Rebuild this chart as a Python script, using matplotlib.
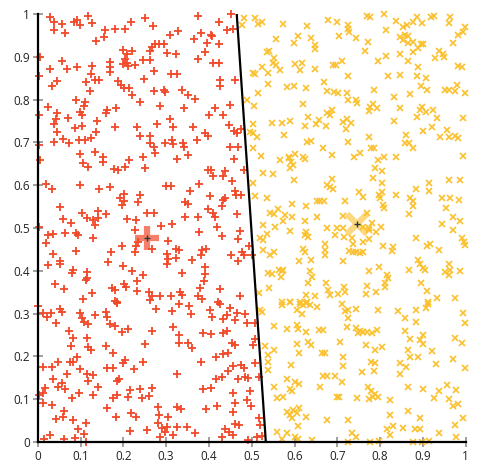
import numpy as np
import matplotlib.pyplot as plt

# class A (red plus markers)
red_x = [
    0.029, 0.118, 0.037, 0.056, 0.038, 0.064, 0.085, 0.091, 0.099, 0.126, 0.136, 0.155, 0.157, 0.181, 0.204, 0.217,
    0.251, 0.269, 0.309, 0.327, 0.375, 0.452, 0.424, 0.381, 0.364, 0.404, 0.408, 0.395, 0.424, 0.442, 0.457, 0.391,
    0.375, 0.409, 0.424, 0.005, 0.029, 0.056, 0.068, 0.091, 0.126, 0.124, 0.134, 0.144, 0.113, 0.122, 0.169, 0.169,
    0.169, 0.199, 0.208, 0.220, 0.204, 0.200, 0.208, 0.212, 0.227, 0.247, 0.262, 0.262, 0.266, 0.274, 0.284, 0.295,
    0.301, 0.323, 0.272, 0.311, 0.325, 0.249, 0.002, 0.033, 0.046, 0.188, 0.194, 0.202, 0.214, 0.220, 0.272, 0.294,
    0.297, 0.336, 0.352, 0.368, 0.239, 0.286, 0.341, 0.182, 0.090, 0.111, 0.107, 0.099, 0.023, 0.002, 0.046, 0.043,
    0.037, 0.046, 0.071, 0.103, 0.103, 0.087, 0.138, 0.136, 0.160, 0.163, 0.181, 0.231, 0.239, 0.262, 0.278, 0.308,
    0.315, 0.313, 0.297, 0.340, 0.342, 0.362, 0.371, 0.391, 0.401, 0.414, 0.432, 0.449, 0.446, 0.459, 0.465, 0.426,
    0.461, 0.426, 0.469, 0.399, 0.037, 0.060, 0.073, 0.097, 0.111, 0.124, 0.002, 0.099, 0.134, 0.153, 0.262, 0.271,
    0.274, 0.245, 0.317, 0.352, 0.449, 0.474,
    0.005, 0.152, 0.105, 0.118, 0.179, 0.188, 0.204, 0.214, 0.251, 0.325, 0.019, 0.033, 0.099, 0.144, 0.169, 0.202,
    0.192, 0.202, 0.198, 0.239, 0.235, 0.300, 0.311, 0.052, 0.103, 0.140, 0.160, 0.060, 0.078, 0.114, 0.128, 0.142,
    0.134, 0.208, 0.229, 0.256, 0.272, 0.288, 0.313, 0.002, 0.023, 0.036, 0.064, 0.090, 0.093, 0.128, 0.227, 0.019,
    0.090, 0.171, 0.196, 0.230, 0.234, 0.227, 0.266, 0.304, 0.322, 0.302, 0.305, 0.301, 0.322, 0.036, 0.051, 0.051,
    0.025, 0.164, 0.200, 0.083, 0.079, 0.114, 0.114, 0.113, 0.221, 0.247, 0.233, 0.202, 0.206, 0.041, 0.062, 0.126,
    0.105, 0.173, 0.181, 0.181, 0.186, 0.233, 0.260, 0.266, 0.262, 0.286, 0.311,
    0.459, 0.399, 0.406, 0.410, 0.438, 0.434, 0.483, 0.453, 0.377, 0.356, 0.403, 0.438, 0.434, 0.460, 0.463, 0.475,
    0.343, 0.351, 0.430, 0.399, 0.410, 0.414, 0.465, 0.375, 0.344, 0.420, 0.377, 0.430, 0.473, 0.469, 0.494, 0.329,
    0.383, 0.393, 0.381, 0.360, 0.452, 0.477, 0.481, 0.469, 0.500, 0.390, 0.390, 0.388, 0.337, 0.333, 0.337, 0.379,
    0.375, 0.385, 0.426, 0.473, 0.422,
    0.000, 0.012, 0.021, 0.030, 0.052, 0.056, 0.043, 0.099, 0.103, 0.107, 0.118, 0.134, 0.160, 0.163, 0.169, 0.181,
    0.185, 0.196, 0.212, 0.276, 0.313, 0.317, 0.268, 0.072, 0.114, 0.082, 0.077, 0.118, 0.125, 0.160, 0.177, 0.251,
    0.091, 0.075, 0.082, 0.048, 0.013, 0.034, 0.069, 0.099, 0.163, 0.177, 0.199, 0.204, 0.224, 0.245, 0.325, 0.116,
    0.130, 0.118, 0.035, 0.048, 0.056, 0.064, 0.017, 0.013, 0.002, 0.012, 0.033, 0.079, 0.097, 0.130, 0.142, 0.175,
    0.186, 0.191, 0.186, 0.216, 0.210, 0.238, 0.243, 0.261, 0.266, 0.163, 0.182, 0.218, 0.230, 0.062, 0.060, 0.043,
    0.082, 0.113, 0.095, 0.108, 0.113, 0.087, 0.062, 0.029, 0.015, 0.216, 0.255, 0.282, 0.284, 0.305, 0.325, 0.282,
    0.290, 0.298, 0.301, 0.325, 0.286, 0.315,
    0.329, 0.353, 0.357, 0.403, 0.407, 0.426, 0.449, 0.442, 0.434, 0.465, 0.484, 0.461, 0.488, 0.508, 0.329, 0.329,
    0.352, 0.360, 0.387, 0.405, 0.434, 0.442, 0.455, 0.460, 0.434, 0.444, 0.502, 0.508, 0.416, 0.382, 0.457, 0.475,
    0.481, 0.508, 0.444, 0.430, 0.416, 0.469, 0.485, 0.491, 0.516, 0.387, 0.405, 0.457, 0.496, 0.488, 0.461, 0.499,
    0.418, 0.393, 0.335, 0.457, 0.517, 0.520, 0.461, 0.470, 0.348, 0.367, 0.430, 0.438, 0.446, 0.457, 0.491, 0.512,
    0.525,
]
red_y = [
    0.994, 0.996, 0.982, 0.976, 0.963, 0.955, 0.982, 0.986, 0.974, 0.980, 0.937, 0.947, 0.963, 0.964, 0.966, 0.981,
    0.991, 0.972, 0.951, 0.961, 0.996, 0.999, 0.982, 0.955, 0.941, 0.952, 0.948, 0.933, 0.929, 0.963, 0.966, 0.912,
    0.894, 0.885, 0.885, 0.900, 0.872, 0.889, 0.871, 0.876, 0.879, 0.860, 0.846, 0.846, 0.842, 0.819, 0.887, 0.877,
    0.865, 0.917, 0.906, 0.914, 0.896, 0.883, 0.886, 0.879, 0.881, 0.893, 0.893, 0.914, 0.924, 0.930, 0.931, 0.931,
    0.910, 0.906, 0.867, 0.860, 0.860, 0.847, 0.854, 0.832, 0.843, 0.844, 0.834, 0.826, 0.828, 0.811, 0.819, 0.823,
    0.817, 0.823, 0.811, 0.801, 0.795, 0.784, 0.780, 0.780, 0.799, 0.795, 0.785, 0.772, 0.782, 0.763, 0.768, 0.755,
    0.743, 0.725, 0.756, 0.765, 0.738, 0.733, 0.749, 0.725, 0.768, 0.776, 0.735, 0.735, 0.715, 0.715, 0.743, 0.754,
    0.735, 0.706, 0.698, 0.698, 0.690, 0.737, 0.706, 0.723, 0.764, 0.780, 0.764, 0.787, 0.740, 0.727, 0.721, 0.846,
    0.846, 0.832, 0.690, 0.715, 0.702, 0.707, 0.699, 0.705, 0.705, 0.711, 0.694, 0.673, 0.678, 0.667, 0.698, 0.690,
    0.676, 0.667, 0.696, 0.671, 0.690, 0.731,
    0.659, 0.655, 0.651, 0.642, 0.638, 0.635, 0.643, 0.659, 0.641, 0.661, 0.603, 0.591, 0.600, 0.591, 0.595, 0.579,
    0.569, 0.564, 0.554, 0.577, 0.561, 0.598, 0.598, 0.548, 0.534, 0.540, 0.532, 0.521, 0.511, 0.523, 0.519, 0.524,
    0.507, 0.521, 0.519, 0.534, 0.534, 0.505, 0.509, 0.503, 0.484, 0.486, 0.488, 0.488, 0.484, 0.476, 0.495, 0.464,
    0.447, 0.445, 0.459, 0.459, 0.467, 0.445, 0.451, 0.470, 0.450, 0.439, 0.428, 0.417, 0.429, 0.439, 0.423, 0.417,
    0.414, 0.421, 0.411, 0.402, 0.394, 0.398, 0.384, 0.379, 0.400, 0.390, 0.376, 0.369, 0.363, 0.369, 0.357, 0.347,
    0.334, 0.359, 0.355, 0.330, 0.328, 0.353, 0.351, 0.340, 0.332, 0.340, 0.340,
    0.661, 0.635, 0.635, 0.622, 0.632, 0.622, 0.635, 0.610, 0.602, 0.586, 0.575, 0.571, 0.565, 0.586, 0.578, 0.578,
    0.561, 0.555, 0.552, 0.544, 0.536, 0.526, 0.532, 0.526, 0.525, 0.503, 0.491, 0.482, 0.493, 0.474, 0.459, 0.449,
    0.449, 0.451, 0.437, 0.425, 0.437, 0.443, 0.437, 0.423, 0.437, 0.410, 0.392, 0.376, 0.394, 0.351, 0.343, 0.359,
    0.340, 0.335, 0.357, 0.340, 0.328,
    0.318, 0.301, 0.291, 0.302, 0.310, 0.304, 0.277, 0.301, 0.289, 0.281, 0.276, 0.297, 0.304, 0.293, 0.276, 0.271,
    0.324, 0.258, 0.265, 0.310, 0.307, 0.269, 0.259, 0.260, 0.244, 0.244, 0.224, 0.222, 0.215, 0.224, 0.209, 0.229,
    0.199, 0.186, 0.188, 0.186, 0.176, 0.175, 0.159, 0.170, 0.174, 0.173, 0.184, 0.192, 0.170, 0.188, 0.160, 0.159,
    0.157, 0.143, 0.147, 0.129, 0.137, 0.123, 0.125, 0.115, 0.110, 0.090, 0.087, 0.102, 0.114, 0.110, 0.128, 0.102,
    0.110, 0.146, 0.143, 0.121, 0.106, 0.123, 0.102, 0.107, 0.127, 0.079, 0.058, 0.067, 0.059, 0.073, 0.059, 0.054,
    0.051, 0.044, 0.030, 0.019, 0.000, 0.009, 0.006, 0.016, 0.006, 0.026, 0.028, 0.081, 0.063, 0.059, 0.081, 0.044,
    0.032, 0.024, 0.034, 0.034, 0.011, 0.016,
    0.322, 0.318, 0.300, 0.308, 0.293, 0.323, 0.312, 0.297, 0.287, 0.302, 0.299, 0.284, 0.279, 0.277, 0.250, 0.232,
    0.232, 0.219, 0.254, 0.252, 0.255, 0.260, 0.232, 0.227, 0.206, 0.209, 0.227, 0.240, 0.198, 0.188, 0.177, 0.180,
    0.172, 0.185, 0.167, 0.153, 0.146, 0.146, 0.153, 0.150, 0.151, 0.123, 0.127, 0.115, 0.118, 0.098, 0.092, 0.084,
    0.084, 0.076, 0.076, 0.071, 0.055, 0.040, 0.042, 0.040, 0.034, 0.022, 0.012, 0.030, 0.024, 0.016, 0.005, 0.012,
    0.014,
]

# class B (yellow x markers)
yel_x = [
    0.481, 0.477, 0.508, 0.515, 0.523, 0.572, 0.629, 0.678, 0.700, 0.726, 0.724, 0.727, 0.769, 0.777, 0.809, 0.814,
    0.837, 0.853, 0.862, 0.878, 0.886, 0.897, 0.918, 0.925, 0.963, 0.960, 0.998, 0.993, 0.981, 0.971, 0.556, 0.608,
    0.599, 0.638, 0.648, 0.648, 0.705, 0.744, 0.771, 0.765, 0.847, 0.858, 0.866, 0.853, 0.866, 0.878, 0.896, 0.900,
    0.889, 0.876, 0.847, 0.814, 0.796, 0.865, 0.938, 0.946, 0.929, 0.950, 0.535, 0.541, 0.553, 0.550, 0.557, 0.566,
    0.523, 0.539, 0.502, 0.508, 0.601, 0.617, 0.614, 0.649, 0.691, 0.698, 0.712, 0.726, 0.818, 0.847, 0.889, 0.887,
    0.907, 0.981, 0.992, 0.537, 0.515, 0.582, 0.599, 0.626, 0.668, 0.675, 0.693, 0.702, 0.722, 0.724, 0.744, 0.745,
    0.786, 0.833, 0.870, 0.896, 0.909, 0.952, 0.962, 0.979, 0.975, 0.998, 0.488, 0.506, 0.619, 0.677, 0.687, 0.683,
    0.632, 0.657, 0.650, 0.674, 0.713, 0.722, 0.721, 0.732, 0.777, 0.783, 0.792, 0.773, 0.847, 0.833, 0.897, 0.893,
    0.907, 0.923, 0.887, 0.932, 0.993, 0.590, 0.571, 0.547, 0.502, 0.625, 0.496, 0.504, 0.513, 0.576, 0.504, 0.630,
    0.638, 0.666, 0.724, 0.775, 0.779, 0.786, 0.861, 0.858, 0.868, 0.878, 0.901, 0.922, 0.957, 0.940, 0.962, 0.975,
    0.981, 0.521, 0.588, 0.601, 0.621, 0.687, 0.753, 0.808, 0.837, 0.993, 0.738,
    0.566, 0.586, 0.592, 0.590, 0.597, 0.625, 0.527, 0.549, 0.599, 0.504, 0.508, 0.535, 0.593, 0.626, 0.652, 0.660,
    0.543, 0.553, 0.562, 0.578, 0.593, 0.574, 0.625, 0.652, 0.527, 0.554, 0.535, 0.590, 0.628, 0.625, 0.632, 0.520,
    0.527, 0.527, 0.551, 0.543, 0.620, 0.624, 0.610, 0.639, 0.539, 0.547, 0.564, 0.570, 0.574, 0.568, 0.636, 0.642,
    0.632, 0.540, 0.518, 0.628, 0.648, 0.570, 0.590, 0.614, 0.629,
    0.796, 0.788, 0.804, 0.783, 0.804, 0.687, 0.675, 0.683, 0.691, 0.669, 0.718, 0.751, 0.761, 0.798, 0.804, 0.800,
    0.837, 0.806, 0.809, 0.769, 0.713, 0.884, 0.915, 0.915, 0.960, 0.986, 0.871, 0.877, 0.876, 0.868, 0.944, 0.963,
    0.985, 0.954, 0.971, 0.987, 0.944, 0.971, 0.991, 0.996, 0.999, 0.677, 0.699, 0.713, 0.695, 0.716, 0.734, 0.761,
    0.773, 0.780, 0.775, 0.801, 0.791, 0.775, 0.759, 0.736, 0.671, 0.671, 0.671, 0.728, 0.736, 0.744, 0.754, 0.760,
    0.713, 0.806, 0.827, 0.831, 0.885, 0.909, 0.916, 0.938, 0.889, 0.893, 0.901, 0.905, 0.868, 0.798, 0.775, 0.960,
    0.952, 0.963, 0.960, 0.987, 0.815, 0.819, 0.811, 0.811, 0.674, 0.679, 0.683, 0.702, 0.716, 0.718, 0.769, 0.767,
    0.791, 0.895, 0.909, 0.913, 0.932, 0.975,
    0.520, 0.525, 0.570, 0.589, 0.613, 0.621, 0.628, 0.636, 0.652, 0.618, 0.605, 0.551, 0.582, 0.605, 0.608, 0.626,
    0.657, 0.531, 0.553, 0.539, 0.537, 0.537, 0.605, 0.632, 0.639, 0.611, 0.664, 0.592, 0.582, 0.600, 0.611, 0.553,
    0.590, 0.594, 0.574, 0.558, 0.660, 0.582, 0.589, 0.594, 0.597, 0.610, 0.606, 0.628, 0.609, 0.558, 0.582, 0.601,
    0.607, 0.570, 0.642,
    0.710, 0.718, 0.724, 0.744, 0.794, 0.724, 0.842, 0.885, 0.907, 0.913, 0.993, 0.999, 0.858, 0.883, 0.722, 0.744,
    0.753, 0.749, 0.759, 0.769, 0.780, 0.792, 0.667, 0.858, 0.901, 0.893, 0.900, 0.869, 0.707, 0.767, 0.788, 0.804,
    0.866, 0.870, 0.888, 0.921, 0.975, 0.991, 0.671, 0.714, 0.714, 0.778, 0.788, 0.786, 0.757, 0.846, 0.860, 0.846,
    0.930, 0.971, 0.998, 0.667, 0.675, 0.694, 0.712, 0.699, 0.705, 0.745, 0.772, 0.778, 0.788, 0.783, 0.796, 0.775,
    0.823, 0.866, 0.900, 0.926, 0.938, 0.956, 0.978, 0.962, 0.971, 0.981, 0.675, 0.726, 0.866, 0.893, 0.822, 0.830,
    0.816, 0.822, 0.854, 0.882, 0.893, 0.938, 0.975, 0.994, 0.977, 0.734, 0.744, 0.726, 0.776, 0.798, 0.877, 0.897,
    0.915,
]
yel_y = [
    0.990, 0.974, 0.990, 0.977, 0.982, 0.977, 0.973, 0.986, 0.982, 0.974, 0.964, 0.959, 0.996, 0.992, 0.999, 0.963,
    0.984, 0.970, 0.974, 0.982, 0.992, 0.980, 0.994, 0.996, 0.992, 0.978, 0.969, 0.957, 0.951, 0.933, 0.942, 0.949,
    0.933, 0.943, 0.928, 0.918, 0.949, 0.945, 0.934, 0.914, 0.947, 0.951, 0.949, 0.939, 0.933, 0.935, 0.930, 0.931,
    0.920, 0.911, 0.907, 0.902, 0.890, 0.889, 0.914, 0.907, 0.897, 0.899, 0.912, 0.914, 0.897, 0.885, 0.881, 0.869,
    0.877, 0.863, 0.863, 0.860, 0.883, 0.886, 0.868, 0.871, 0.881, 0.881, 0.889, 0.854, 0.855, 0.857, 0.875, 0.854,
    0.850, 0.879, 0.877, 0.836, 0.816, 0.829, 0.832, 0.827, 0.840, 0.821, 0.818, 0.815, 0.816, 0.799, 0.800, 0.791,
    0.822, 0.805, 0.812, 0.832, 0.823, 0.823, 0.823, 0.834, 0.821, 0.816, 0.798, 0.785, 0.790, 0.768, 0.776, 0.764,
    0.759, 0.752, 0.743, 0.739, 0.748, 0.754, 0.731, 0.745, 0.783, 0.790, 0.780, 0.774, 0.780, 0.751, 0.783, 0.776,
    0.772, 0.776, 0.760, 0.756, 0.756, 0.751, 0.745, 0.745, 0.743, 0.738, 0.725, 0.721, 0.712, 0.717, 0.688, 0.702,
    0.704, 0.688, 0.702, 0.713, 0.688, 0.686, 0.717, 0.699, 0.699, 0.688, 0.727, 0.735, 0.729, 0.712, 0.713, 0.715,
    0.710, 0.668, 0.667, 0.673, 0.667, 0.671, 0.676, 0.667, 0.665, 0.668, 0.667,
    0.659, 0.663, 0.655, 0.639, 0.647, 0.661, 0.628, 0.625, 0.611, 0.604, 0.575, 0.569, 0.556, 0.552, 0.564, 0.562,
    0.534, 0.532, 0.544, 0.530, 0.526, 0.517, 0.516, 0.526, 0.507, 0.503, 0.487, 0.493, 0.491, 0.483, 0.479, 0.477,
    0.473, 0.449, 0.443, 0.437, 0.452, 0.444, 0.423, 0.425, 0.394, 0.392, 0.402, 0.400, 0.402, 0.386, 0.400, 0.386,
    0.371, 0.360, 0.347, 0.343, 0.342, 0.328, 0.328, 0.328, 0.328,
    0.659, 0.641, 0.633, 0.616, 0.604, 0.615, 0.600, 0.595, 0.591, 0.562, 0.564, 0.585, 0.573, 0.577, 0.583, 0.571,
    0.577, 0.554, 0.546, 0.534, 0.529, 0.591, 0.604, 0.586, 0.612, 0.612, 0.571, 0.562, 0.552, 0.532, 0.569, 0.571,
    0.565, 0.546, 0.526, 0.516, 0.509, 0.495, 0.476, 0.467, 0.460, 0.499, 0.501, 0.501, 0.483, 0.480, 0.476, 0.503,
    0.501, 0.511, 0.496, 0.503, 0.491, 0.474, 0.468, 0.462, 0.462, 0.449, 0.438, 0.446, 0.445, 0.445, 0.441, 0.443,
    0.423, 0.459, 0.446, 0.456, 0.477, 0.459, 0.462, 0.449, 0.425, 0.415, 0.406, 0.402, 0.402, 0.410, 0.400, 0.416,
    0.398, 0.402, 0.390, 0.400, 0.391, 0.382, 0.371, 0.361, 0.372, 0.355, 0.343, 0.346, 0.363, 0.351, 0.365, 0.345,
    0.351, 0.371, 0.353, 0.328, 0.336, 0.337,
    0.308, 0.304, 0.320, 0.326, 0.322, 0.320, 0.324, 0.320, 0.315, 0.298, 0.308, 0.271, 0.264, 0.274, 0.264, 0.257,
    0.261, 0.224, 0.215, 0.203, 0.188, 0.168, 0.230, 0.234, 0.227, 0.209, 0.207, 0.180, 0.146, 0.141, 0.136, 0.128,
    0.123, 0.118, 0.106, 0.102, 0.128, 0.071, 0.063, 0.055, 0.075, 0.079, 0.067, 0.059, 0.037, 0.024, 0.022, 0.012,
    0.006, 0.006, 0.005,
    0.322, 0.305, 0.309, 0.310, 0.308, 0.289, 0.307, 0.309, 0.312, 0.322, 0.301, 0.277, 0.289, 0.281, 0.268, 0.266,
    0.260, 0.254, 0.256, 0.258, 0.254, 0.262, 0.262, 0.260, 0.250, 0.238, 0.229, 0.240, 0.234, 0.227, 0.215, 0.221,
    0.215, 0.199, 0.199, 0.213, 0.242, 0.232, 0.209, 0.198, 0.178, 0.188, 0.184, 0.167, 0.164, 0.184, 0.176, 0.159,
    0.183, 0.193, 0.174, 0.154, 0.154, 0.154, 0.141, 0.106, 0.106, 0.102, 0.128, 0.120, 0.112, 0.106, 0.104, 0.100,
    0.098, 0.128, 0.123, 0.102, 0.120, 0.133, 0.121, 0.100, 0.083, 0.089, 0.051, 0.051, 0.073, 0.055, 0.063, 0.037,
    0.030, 0.016, 0.032, 0.030, 0.030, 0.022, 0.040, 0.055, 0.011, 0.022, 0.012, 0.000, 0.001, 0.003, 0.001, 0.001,
    0.003,
]

# class means and the separating line
red_mean = (0.255, 0.477)
yel_mean = (0.745, 0.509)
line_x = [0.465, 0.533]
line_y = [1.0, 0.0]

ticks = [0, 0.1, 0.2, 0.3, 0.4, 0.5, 0.6, 0.7, 0.8, 0.9, 1]
tick_labels = ['0', '0.1', '0.2', '0.3', '0.4', '0.5', '0.6', '0.7', '0.8', '0.9', '1']

RED = '#f1492a'
YEL = '#fbc02d'

plt.rcParams['font.family'] = ['Open Sans', 'DejaVu Sans']

fig = plt.figure(figsize=(4.88, 4.71), dpi=100)
ax = fig.add_axes([0.0773, 0.0616, 0.877, 0.9087])

ax.plot(red_x, red_y, linestyle='none', marker='+', color=RED, ms=5.5, mew=1.3, zorder=3, clip_on=False)
ax.plot(yel_x, yel_y, linestyle='none', marker='x', color=YEL, ms=4.8, mew=1.2, zorder=3, clip_on=False)

ax.plot(*red_mean, marker='+', color=RED, ms=17, mew=4.5, alpha=0.7, zorder=4)
ax.plot(*yel_mean, marker='x', color=YEL, ms=15, mew=4.5, alpha=0.6, zorder=4)
ax.plot(*red_mean, marker='+', color='#333333', ms=5, mew=1, zorder=5)
ax.plot(*yel_mean, marker='+', color='#333333', ms=5, mew=1, zorder=5)

ax.plot(line_x, line_y, color='black', lw=1.6, zorder=6)

ax.set_xlim(0, 1)
ax.set_ylim(0, 1)
ax.set_xticks(ticks)
ax.set_xticklabels(tick_labels)
ax.set_yticks(ticks)
ax.set_yticklabels(tick_labels)
ax.tick_params(direction='inout', length=7, width=1.3, color='#999999', labelsize=8.5,
               labelcolor='#222222', pad=2)
for s in ['top', 'right']:
    ax.spines[s].set_visible(False)
for s in ['left', 'bottom']:
    ax.spines[s].set_linewidth(1.6)
    ax.spines[s].set_color('black')
    ax.spines[s].set_zorder(7)

fig.savefig('out.png', dpi=100)
